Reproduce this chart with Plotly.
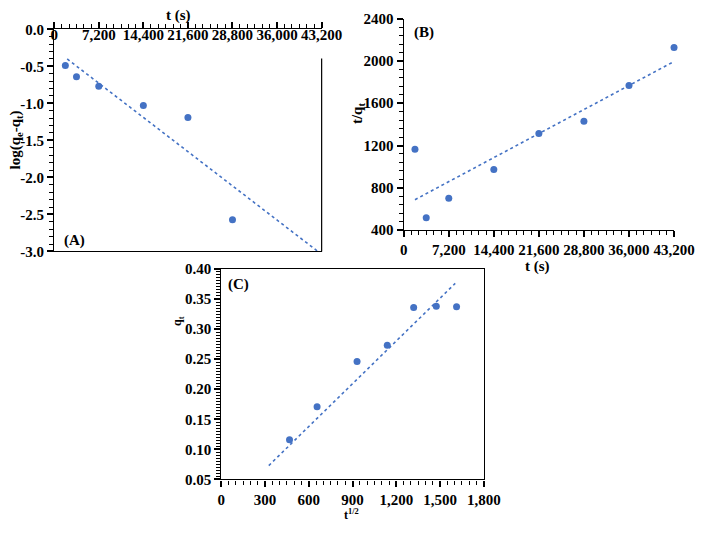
import plotly.graph_objects as go

# ---------------- data ----------------
t_A = [1800, 3600, 7200, 14400, 21600, 28800]
logq_A = [-0.49, -0.64, -0.77, -1.03, -1.19, -2.57]
trend_A_t = [2100, 42600]
trend_A_y = [-0.40, -3.0]
ytick_A_vals = [0.0, -0.5, -1.0, -1.5, -2.0, -2.5, -3.0]
ytick_A_text = ["0.0", "-0.5", "-1.0", "-1.5", "-2.0", "-2.5", "-3.0"]

t_B = [1800, 3600, 7200, 14400, 21600, 28800, 36000, 43200]
tq_B = [1166, 516, 702, 974, 1313, 1429, 1768, 2128]
trend_B_t = [1800, 43200]
trend_B_y = [688, 1995]

sqrt_C = [468, 657, 931, 1138, 1319, 1474, 1613]
qt_C = [0.116, 0.171, 0.246, 0.273, 0.336, 0.338, 0.337]
trend_C_x = [326, 1604]
trend_C_y = [0.073, 0.376]

W, H = 724, 533
BLUE = "#4472C4"
FONT = "Liberation Serif"

def px(x):
    return x / W

def py(y):
    return 1 - y / H

fig = go.Figure()

def scatter(x, y, xa, ya):
    fig.add_trace(go.Scatter(x=x, y=y, mode="markers", xaxis=xa, yaxis=ya,
                             marker=dict(color=BLUE, size=7), showlegend=False,
                             cliponaxis=False))

def trend(x, y, xa, ya):
    fig.add_trace(go.Scatter(x=x, y=y, mode="lines", xaxis=xa, yaxis=ya,
                             line=dict(color=BLUE, width=1.6, dash="dot"),
                             showlegend=False))

trend(trend_A_t, trend_A_y, "x", "y")
scatter(t_A, logq_A, "x", "y")
trend(trend_B_t, trend_B_y, "x2", "y2")
scatter(t_B, tq_B, "x2", "y2")
trend(trend_C_x, trend_C_y, "x3", "y3")
scatter(sqrt_C, qt_C, "x3", "y3")

tickfont = dict(family=FONT, size=15, color="black", weight="bold")
common = dict(showgrid=False, zeroline=False, showline=True, linecolor="black",
              linewidth=1.2, ticks="outside", ticklen=6, tickcolor="black",
              tickwidth=1.5, tickfont=tickfont)

def minor(d):
    return dict(dtick=d, ticks="outside", ticklen=4, tickcolor="black",
                tickwidth=1.2)

fig.update_layout(
    width=W, height=H,
    margin=dict(l=0, r=0, t=0, b=0),
    paper_bgcolor="white", plot_bgcolor="white",
    font=dict(family=FONT, color="black"),
    # Panel A
    xaxis=dict(domain=[px(52), px(329)], anchor="y", side="top",
               range=[0, 43200], dtick=7200, tick0=0, tickformat=",",
               ticklabelposition="inside", ticklabeloverflow="allow",
               mirror=True, minor=minor(1200), **common),
    yaxis=dict(domain=[py(251), py(22)], anchor="x",
               range=[-3, 0], tickmode="array", tickvals=ytick_A_vals,
               ticktext=ytick_A_text, minor=minor(0.1), **common),
    # Panel B
    xaxis2=dict(domain=[px(414), px(694)], anchor="y2",
                range=[0, 43200], dtick=7200, tick0=0, tickformat=",",
                ticklabeloverflow="allow", minor=minor(1200), **common),
    yaxis2=dict(domain=[py(229), py(11)], anchor="x2",
                range=[400, 2400], dtick=400, minor=minor(80), **common),
    # Panel C
    xaxis3=dict(domain=[px(225), px(497)], anchor="y3",
                range=[0, 1800], dtick=300, tick0=0, tickformat=",",
                ticklabeloverflow="allow", mirror=True, minor=minor(50), **common),
    yaxis3=dict(domain=[py(486), py(269)], anchor="x3",
                range=[0.05, 0.40], dtick=0.05, tickformat=".2f", mirror=True,
                minor=minor(0.005), **common),
)

# right border of panel A (below the top tick labels)
fig.add_shape(type="line", xref="x domain", yref="y domain",
              x0=1, x1=1, y0=0, y1=1 - 30 / 229,
              line=dict(color="black", width=1.2))

def ann(text, x, y, size=15, angle=0):
    fig.add_annotation(text=text, xref="paper", yref="paper", x=px(x), y=py(y),
                       showarrow=False, textangle=angle,
                       font=dict(family=FONT, size=size, color="black"),
                       xanchor="center", yanchor="middle")

ann("<b>t (s)</b>", 181, 8)
ann("<b>log(q<sub>e</sub>-q<sub>t</sub>)</b>", 12, 136, angle=-90)
ann("<b>(A)</b>", 73, 240)
ann("<b>t (s)</b>", 553, 267)
ann("<b>t/q<sub>t</sub></b>", 366, 108, angle=-90)
ann("<b>(B)</b>", 435, 25)
ann("<b>q<sub>t</sub></b>", 181, 323, size=12, angle=-90)
ann("<b>t<sup>1/2</sup></b>", 360, 522, size=12)
ann("<b>(C)</b>", 243, 285)

fig.write_html("out.html")
